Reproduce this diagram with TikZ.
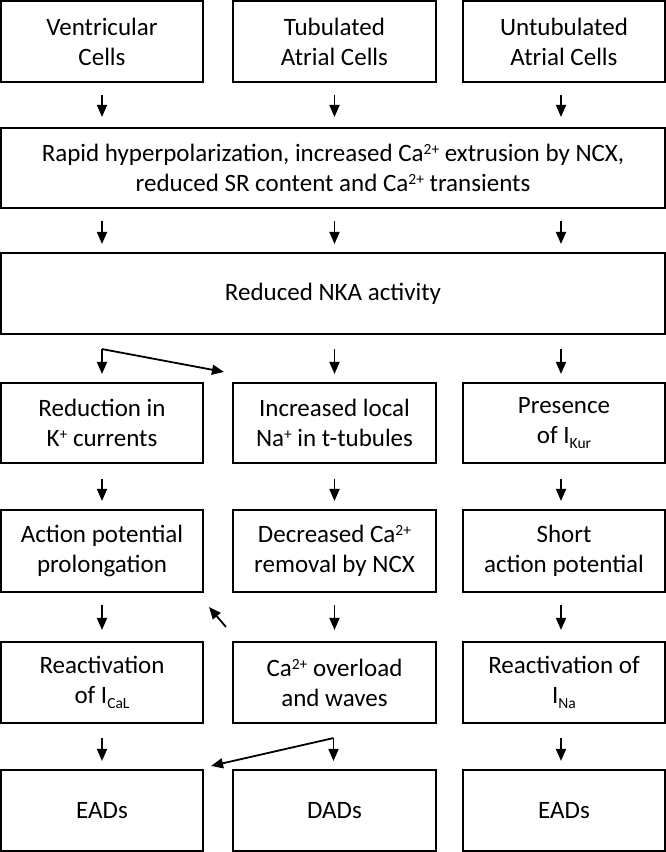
\documentclass[tikz,border=0pt]{standalone}
\usepackage{fontspec}
\setmainfont{Carlito}
\usetikzlibrary{arrows.meta,calc}
\newcommand\mysup[1]{\raisebox{7pt}{\fontsize{15.5}{15.5}\selectfont #1}}
\newcommand\mysub[1]{\raisebox{-4.5pt}{\fontsize{15.5}{15.5}\selectfont #1}}
\begin{document}
\begin{tikzpicture}[x=1pt,y=-1pt,
  box/.style={draw,line width=2.1pt,inner sep=0pt,align=center,
    font=\fontsize{25}{30}\selectfont},
  cbox/.style={box,minimum width=202pt,minimum height=81pt},
  wbox/.style={box,minimum width=664pt,minimum height=81pt},
  arr/.style={line width=1.8pt,-{Triangle[length=12pt,width=10pt]}}]
\useasboundingbox (0,0) rectangle (666,852);
% row 1
\node[cbox] (a1) at (102,41.5) {Ventricular\\Cells};
\node[cbox,minimum width=203pt] (a2) at (334.5,41.5) {Tubulated\\Atrial Cells};
\node[cbox] (a3) at (564,41.5) {Untubulated\\Atrial Cells};
% row 2
\node[wbox,minimum height=80pt] (b) at (333,168) {Rapid hyperpolarization, increased Ca\mysup{2+} extrusion by NCX,\\reduced SR content and Ca\mysup{2+} transients};
% row 3
\node[wbox] (c) at (333,293.5) {Reduced NKA activity};
% row 4
\node[cbox,minimum height=80pt] (d1) at (102,423) {Reduction in\\K\mysup{+} currents};
\node[cbox,minimum height=80pt,minimum width=203pt] (d2) at (334.5,423) {Increased local\\Na\mysup{+} in t-tubules};
\node[cbox,minimum height=80pt] (d3) at (564,423) {Presence\\of I\mysub{Kur}};
% row 5
\node[cbox,minimum height=82pt] (e1) at (102,551) {Action potential\\prolongation};
\node[cbox,minimum height=82pt,minimum width=203pt] (e2) at (334.5,551) {Decreased Ca\mysup{2+}\\removal by NCX};
\node[cbox,minimum height=82pt] (e3) at (564,551) {Short\\action potential};
% row 6
\node[cbox] (f1) at (102,682.5) {Reactivation\\of I\mysub{CaL}};
\node[cbox,minimum width=203pt] (f2) at (334.5,682.5) {Ca\mysup{2+} overload\\and waves};
\node[cbox] (f3) at (564,682.5) {Reactivation of\\I\mysub{Na}};
% row 7
\node[cbox] (g1) at (102,810.5) {EADs};
\node[cbox,minimum width=203pt] (g2) at (334.5,810.5) {DADs};
\node[cbox] (g3) at (564,810.5) {EADs};

% row 1 -> row 2
\draw[arr] ($(a1.south)+(0,12)$) -- ($(b.north -| a1)+(0,-10)$);
\draw[arr] ($(a2.south)+(0,12)$) -- ($(b.north -| a2)+(0,-10)$);
\draw[arr] ($(a3.south)+(-3,12)$) -- ($(b.north -| a3)+(-3,-10)$);
% row 2 -> row 3
\draw[arr] ($(b.south -| a1)+(0,12)$) -- ($(c.north -| a1)+(0,-8)$);
\draw[arr] ($(b.south -| a2)+(0,12)$) -- ($(c.north -| a2)+(0,-8)$);
\draw[arr] ($(b.south -| a3)+(-3,12)$) -- ($(c.north -| a3)+(-3,-8)$);
% row 3 -> row 4
\coordinate (k1) at ($(c.south -| d1)+(0,14)$);
\draw[arr] (k1) -- ($(d1.north)+(0,-8)$);
\draw[arr] (k1) -- ($(d2.north west)+(-8,-10)$);
\draw[arr] ($(c.south -| d2)+(0,14)$) -- ($(d2.north)+(0,-8)$);
\draw[arr] ($(c.south -| d3)+(-3,14)$) -- ($(d3.north)+(-3,-8)$);
% row 4 -> row 5
\draw[arr] ($(d1.south)+(0,15)$) -- ($(e1.north)+(0,-8)$);
\draw[arr] ($(d2.south)+(0,15)$) -- ($(e2.north)+(0,-8)$);
\draw[arr] ($(d3.south)+(-3,15)$) -- ($(e3.north)+(-3,-8)$);
% row 5 -> row 6
\draw[arr] ($(e1.south)+(0,12)$) -- ($(f1.north)+(0,-11)$);
\draw[arr] ($(e2.south)+(0,12)$) -- ($(f2.north)+(0,-11)$);
\draw[arr] ($(e3.south)+(-3,12)$) -- ($(f3.north)+(-3,-11)$);
\draw[arr] ($(f2.north west)+(-6,-14)$) -- ($(e1.south east)+(5,14)$);
% row 6 -> row 7
\draw[arr] ($(f1.south)+(0,14)$) -- ($(g1.north)+(0,-8)$);
\coordinate (k2) at ($(f2.south)+(-1,14)$);
\draw[arr] (k2) -- ($(g2.north)+(-1,-8)$);
\draw[arr] (k2) -- ($(g1.north east)+(7,-3)$);
\draw[arr] ($(f3.south)+(-3,14)$) -- ($(g3.north)+(-3,-8)$);
\end{tikzpicture}
\end{document}
